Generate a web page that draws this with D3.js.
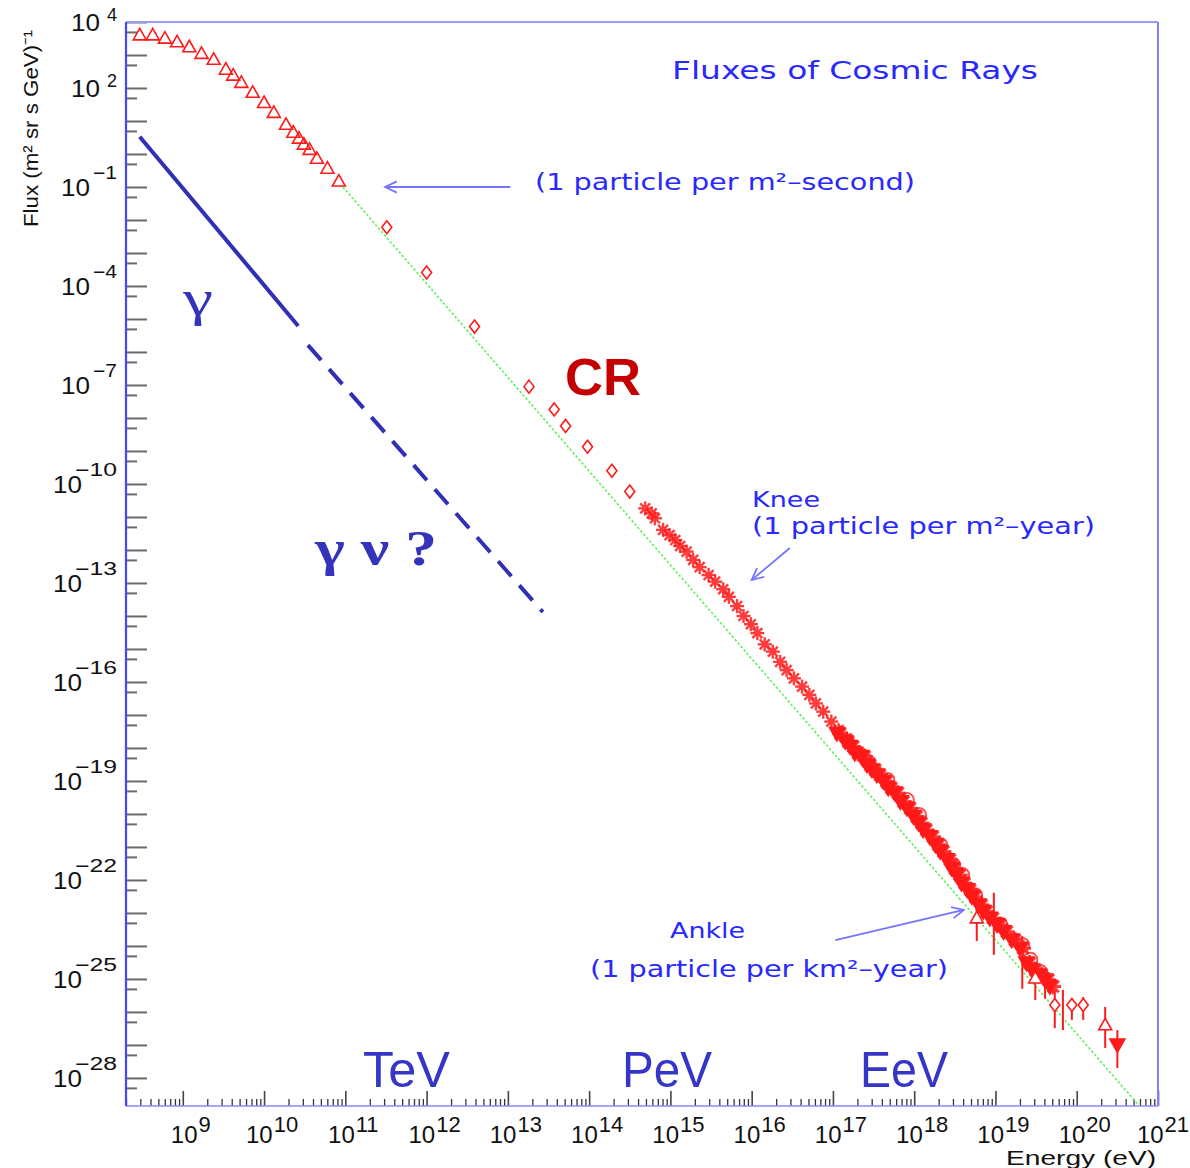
<!DOCTYPE html>
<html>
<head>
<meta charset="utf-8">
<script src="https://cdn.jsdelivr.net/npm/d3@7"></script>
<style>
    body { margin: 0; background: #fff; }
    svg { display: block; }
    text { font-family: "Liberation Sans", Arial, sans-serif; }
</style>
</head>
<body>
<div id="chart"></div>
<script>
// Values are log10 of energy (eV) and flux
const xTickExps = [9, 10, 11, 12, 13, 14, 15, 16, 17, 18, 19, 20, 21];
const yLabelExps = [4, 2, -1, -4, -7, -10, -13, -16, -19, -22, -25, -28];

// low energy (open triangles)
const triLogE = [8.47, 8.63, 8.78, 8.93, 9.08, 9.23, 9.38, 9.53, 9.62, 9.72, 9.86, 10.00, 10.12, 10.27, 10.36, 10.43, 10.49, 10.56, 10.65, 10.78, 10.92];
const triLogF = [3.61, 3.61, 3.51, 3.40, 3.25, 3.05, 2.87, 2.57, 2.39, 2.17, 1.87, 1.56, 1.26, 0.90, 0.66, 0.48, 0.30, 0.14, -0.13, -0.43, -0.82];

// direct measurements (open diamonds)
const diaLogE = [11.51, 12.00, 12.59, 13.26, 13.57, 13.71, 13.98, 14.28, 14.50];
const diaLogF = [-2.22, -3.59, -5.23, -7.05, -7.74, -8.24, -8.87, -9.60, -10.23];

// air shower data around the knee (stars)
const starLogE = [14.69, 14.77, 14.81, 14.91, 14.99, 15.06, 15.12, 15.20, 15.28, 15.36, 15.47, 15.55, 15.65, 15.72, 15.82,
    15.90, 15.99, 16.07, 16.16, 16.26, 16.35, 16.43, 16.52, 16.62, 16.71, 16.79, 16.88, 16.98, 17.07, 17.17];
const starLogF = [-10.74, -10.89, -11.04, -11.39, -11.55, -11.70, -11.88, -12.05, -12.30, -12.52, -12.76, -12.96, -13.19, -13.42, -13.70,
    -14.00, -14.25, -14.52, -14.86, -15.08, -15.39, -15.64, -15.89, -16.14, -16.39, -16.65, -16.90, -17.20, -17.46, -17.71];

// dense band above the knee (filled triangles)
const bandLogE = [17.05, 17.15, 17.21, 17.27, 17.35, 17.42, 17.48, 17.54, 17.62, 17.68, 17.76, 17.83, 17.91, 17.99, 18.05, 18.11, 18.19, 18.26, 18.32,
    18.40, 18.46, 18.52, 18.58, 18.65, 18.71, 18.79, 18.85, 18.93, 19.02, 19.10, 19.20, 19.30, 19.38, 19.45, 19.53, 19.61, 19.67];
const bandLogF = [-17.56, -17.81, -17.96, -18.16, -18.26, -18.52, -18.67, -18.82, -19.02, -19.22, -19.37, -19.63, -19.83, -20.08, -20.28, -20.49, -20.69, -20.94, -21.14,
    -21.39, -21.65, -21.85, -22.10, -22.30, -22.51, -22.76, -22.96, -23.16, -23.36, -23.57, -23.82, -24.07, -24.52, -24.73, -24.88, -25.03, -25.23];

// open circles on the band
const circLogE = [17.43, 17.67, 17.91, 18.06, 18.32, 18.48, 18.59, 18.75, 19.06, 19.33, 19.43, 19.55];
const circLogF = [-18.42, -18.97, -19.58, -20.03, -20.94, -21.55, -21.85, -22.46, -23.36, -23.97, -24.42, -24.79];

// highest energies, with error bars
const errLogE = [18.77, 18.98, 19.33, 19.49, 19.61, 19.73, 19.83, 19.94, 20.08, 20.35, 20.50];
const errLogF = [-23.15, -23.21, -24.07, -24.97, -25.03, -25.79, -25.79, -25.79, -25.79, -26.39, -27.00];
const errHiF = [-22.39, -22.39, -23.70, -24.61, -24.70, -25.33, -25.33, -25.58, -25.55, -25.85, -26.55];
const errLoF = [-23.85, -24.27, -25.30, -25.64, -25.60, -26.49, -26.55, -26.24, -26.24, -27.09, -27.70];
const errMarker = ['tri', 'none', 'none', 'tri', 'none', 'dia', 'none', 'dia', 'dia', 'tri', 'tridown'];

// power-law guide (green dotted)
const greenLogE = [10.97, 20.77];
const greenLogF = [-1.0, -28.85];

// gamma lines
const gammaSolidLogE = [8.47, 10.42];
const gammaSolidLogF = [0.52, -5.21];
const gammaDashLogE = [10.54, 13.43];
const gammaDashLogF = [-5.79, -13.88];

// annotation arrows [from, to]
const arrowSecond = [[13.03, -1.0], [11.49, -1.0]];
const arrowKnee = [[16.47, -11.94], [16.00, -12.91]];
const arrowAnkle = [[17.03, -23.82], [18.61, -22.91]];

const W = 1190, H = 1168;
const pLeft = 126, pRight = 1158, pTop = 22, pBottom = 1106;
const red = '#ff1a1a';
const blueText = '#2828ff';
const blueArrow = '#7474ff';
const blueBig = '#3333bb';

const x = d3.scaleLog().domain([2e8, 1e21]).range([pLeft, pRight]);
const y = d3.scaleLog().domain([Math.pow(10, -28.85), 1e4]).range([pBottom, pTop]);
const X = e => x(Math.pow(10, e));
const Y = f => y(Math.pow(10, f));

const svg = d3.select('#chart').append('svg')
    .attr('width', W)
    .attr('height', H);

svg.append('rect').attr('width', W).attr('height', H).attr('fill', '#fff');

// ---------- axes ----------
const xMajor = [], xMinor = [];
for (let d = 8; d <= 20; d++) {
    for (let m = 1; m <= 9; m++) {
        const v = m * Math.pow(10, d);
        if (v < 2e8 || v > 1e21) continue;
        (m === 1 ? xMajor : xMinor).push(v);
    }
}
xMajor.push(1e21);

const yMajor = [], yMinor = [];
for (let n = 4; n >= -28; n--) {
    yMajor.push(Math.pow(10, n));
    yMinor.push(5 * Math.pow(10, n - 1));
}

const tickStyle = g => {
    g.select('.domain').remove();
    g.selectAll('.tick text').remove();
};

svg.append('g')
    .attr('transform', `translate(0,${pBottom})`)
    .call(d3.axisTop(x).tickValues(xMinor).tickSize(7).tickFormat(''))
    .call(tickStyle)
    .selectAll('line').attr('stroke', '#333').attr('stroke-width', 1.3);

svg.append('g')
    .attr('transform', `translate(0,${pBottom})`)
    .call(d3.axisTop(x).tickValues(xMajor).tickSize(15).tickFormat(''))
    .call(tickStyle)
    .selectAll('line').attr('stroke', '#444').attr('stroke-width', 1.6);

svg.append('g')
    .attr('transform', `translate(${pLeft},0)`)
    .call(d3.axisRight(y).tickValues(yMajor).tickSize(21).tickFormat(''))
    .call(tickStyle)
    .selectAll('line').attr('stroke', '#6a6a6a').attr('stroke-width', 2);

svg.append('g')
    .attr('transform', `translate(${pLeft},0)`)
    .call(d3.axisRight(y).tickValues(yMinor).tickSize(11).tickFormat(''))
    .call(tickStyle)
    .selectAll('line').attr('stroke', '#6a6a6a').attr('stroke-width', 2);

// frame
const frame = svg.append('g').attr('fill', 'none');
frame.append('line').attr('x1', pLeft).attr('x2', pRight).attr('y1', pTop).attr('y2', pTop)
    .attr('stroke', '#9a9aff').attr('stroke-width', 2);
frame.append('line').attr('x1', pRight).attr('x2', pRight).attr('y1', pTop).attr('y2', pBottom)
    .attr('stroke', '#8080ff').attr('stroke-width', 2);
frame.append('line').attr('x1', pLeft).attr('x2', pRight).attr('y1', pBottom).attr('y2', pBottom)
    .attr('stroke', '#8a8aff').attr('stroke-width', 1.6);
frame.append('line').attr('x1', pLeft).attr('x2', pLeft).attr('y1', pTop).attr('y2', pBottom)
    .attr('stroke', '#4646ff').attr('stroke-width', 2.2);

// x tick labels
xTickExps.forEach(e => {
    const t = svg.append('text')
        .attr('x', Math.min(X(e) + 8, 1163))
        .attr('y', 1143)
        .attr('text-anchor', 'middle')
        .attr('fill', '#111');
    t.append('tspan').style('font-size', '24px').text('10');
    t.append('tspan').attr('dx', 1).attr('dy', -11).style('font-size', '22px').text(e);
});

// y tick labels
yLabelExps.forEach(e => {
    const yy = Y(e) + 9;
    const s = e < 0 ? '\u2212' + Math.abs(e) : String(e);
    const mainEnd = s.length === 1 ? 100 : s.length === 2 ? 90 : 82;
    svg.append('text')
        .attr('x', mainEnd)
        .attr('y', yy)
        .attr('text-anchor', 'end')
        .attr('fill', '#111')
        .attr('textLength', 29)
        .attr('lengthAdjust', 'spacingAndGlyphs')
        .style('font-size', '23px')
        .text('10');
    const sup = svg.append('text')
        .attr('x', 117)
        .attr('y', yy - (e < 0 ? 17 : 10))
        .attr('text-anchor', 'end')
        .attr('fill', '#111')
        .style('font-size', '18px')
        .text(s);
    if (s.length > 1) sup.attr('textLength', s.length === 2 ? 24 : 42).attr('lengthAdjust', 'spacingAndGlyphs');
});

// axis titles
svg.append('text')
    .attr('transform', 'translate(38,227) rotate(-90)')
    .attr('fill', '#111')
    .attr('textLength', 197)
    .attr('lengthAdjust', 'spacingAndGlyphs')
    .style('font-size', '21px')
    .text('Flux (m\u00B2 sr s GeV)\u207B\u00B9');

svg.append('text')
    .attr('x', 1006)
    .attr('y', 1165)
    .attr('fill', '#111')
    .attr('textLength', 150)
    .attr('lengthAdjust', 'spacingAndGlyphs')
    .style('font-size', '20px')
    .text('Energy (eV)');

// ---------- curves ----------
const line = d3.line().x(d => X(d[0])).y(d => Y(d[1]));
const zip = (a, b) => a.map((v, i) => [v, b[i]]);

svg.append('path')
    .attr('d', line(zip(greenLogE, greenLogF)))
    .attr('fill', 'none')
    .attr('stroke', '#5cf05c')
    .attr('stroke-width', 1.6)
    .attr('stroke-dasharray', '2.5,2');

svg.append('path')
    .attr('d', line(zip(gammaSolidLogE, gammaSolidLogF)))
    .attr('fill', 'none')
    .attr('stroke', '#3030b4')
    .attr('stroke-width', 4);

svg.append('path')
    .attr('d', line(zip(gammaDashLogE, gammaDashLogF)))
    .attr('fill', 'none')
    .attr('stroke', '#3030b4')
    .attr('stroke-width', 4)
    .attr('stroke-dasharray', '20,12');

// ---------- markers ----------
const marks = svg.append('g');

const triUp = 'M0,-6.5L6.5,5L-6.5,5Z';
const triDown = 'M0,7.5L7.5,-6L-7.5,-6Z';
const diamond = 'M0,-6.5L5,0L0,6.5L-5,0Z';

function drawPath(le, lf, path, filled) {
    marks.selectAll(null)
        .data(zip(le, lf))
        .enter()
        .append('path')
        .attr('transform', d => `translate(${X(d[0])},${Y(d[1])})`)
        .attr('d', path)
        .attr('fill', filled ? red : 'none')
        .attr('stroke', red)
        .attr('stroke-width', 1.6);
}

function drawStars(le, lf, r, w) {
    const g = marks.selectAll(null)
        .data(zip(le, lf))
        .enter()
        .append('g')
        .attr('transform', d => `translate(${X(d[0])},${Y(d[1])})`)
        .attr('stroke', red)
        .attr('stroke-width', w)
        .attr('opacity', 0.85);
    [0, 45, 90, 135].forEach(a => {
        g.append('line')
            .attr('x1', -r).attr('x2', r)
            .attr('transform', `rotate(${a})`);
    });
    g.append('circle').attr('r', 3).attr('fill', red).attr('stroke', 'none');
}

drawPath(triLogE, triLogF, triUp, false);
drawPath(diaLogE, diaLogF, diamond, false);
drawStars(starLogE, starLogF, 7, 2.4);
drawPath(bandLogE, bandLogF, triDown, true);
drawStars(bandLogE.map(v => v + 0.04), bandLogF, 8, 3);

marks.selectAll(null)
    .data(zip(circLogE, circLogF))
    .enter()
    .append('circle')
    .attr('cx', d => X(d[0]))
    .attr('cy', d => Y(d[1]))
    .attr('r', 7)
    .attr('fill', 'none')
    .attr('stroke', red)
    .attr('stroke-width', 2)
    .attr('opacity', 0.75);

// error bars
marks.selectAll(null)
    .data(errLogE.map((e, i) => ({ e, f: errLogF[i], hi: errHiF[i], lo: errLoF[i], m: errMarker[i] })))
    .enter()
    .append('line')
    .attr('x1', d => X(d.e)).attr('x2', d => X(d.e))
    .attr('y1', d => Y(d.hi)).attr('y2', d => Y(d.lo))
    .attr('stroke', red)
    .attr('stroke-width', 2);

errLogE.forEach((e, i) => {
    const m = errMarker[i];
    if (m === 'none') return;
    const path = m === 'tri' ? triUp : m === 'tridown' ? triDown : diamond;
    marks.append('path')
        .attr('transform', `translate(${X(e)},${Y(errLogF[i])})`)
        .attr('d', path)
        .attr('fill', m === 'tridown' ? red : '#fff')
        .attr('stroke', red)
        .attr('stroke-width', 1.6);
});

// ---------- annotations ----------
function arrow(a) {
    const x1 = X(a[0][0]), y1 = Y(a[0][1]), x2 = X(a[1][0]), y2 = Y(a[1][1]);
    const ang = Math.atan2(y2 - y1, x2 - x1);
    const h = 13, spread = 0.45;
    svg.append('line')
        .attr('x1', x1).attr('y1', y1).attr('x2', x2).attr('y2', y2)
        .attr('stroke', blueArrow).attr('stroke-width', 1.8);
    svg.append('path')
        .attr('d', `M${x2 - h * Math.cos(ang - spread)},${y2 - h * Math.sin(ang - spread)}L${x2},${y2}L${x2 - h * Math.cos(ang + spread)},${y2 - h * Math.sin(ang + spread)}`)
        .attr('fill', 'none')
        .attr('stroke', blueArrow)
        .attr('stroke-width', 1.8);
}
arrow(arrowSecond);
arrow(arrowKnee);
arrow(arrowAnkle);

function label(txt, px, py, len, size, color, family, weight) {
    const t = svg.append('text')
        .attr('x', px)
        .attr('y', py)
        .attr('fill', color)
        .style('font-size', size + 'px')
        .style('font-family', family || '"DejaVu Sans", sans-serif')
        .style('font-weight', weight || 'normal')
        .text(txt);
    if (len) t.attr('textLength', len).attr('lengthAdjust', 'spacingAndGlyphs');
    return t;
}

label('Fluxes of Cosmic Rays', 672, 79, 366, 24, blueText);
label('(1 particle per m\u00B2\u2013second)', 535, 190, 380, 23, blueText);
label('Knee', 752, 507, 68, 21, blueText);
label('(1 particle per m\u00B2\u2013year)', 752, 534, 343, 23, blueText);
label('Ankle', 670, 938, 75, 21, blueText);
label('(1 particle per km\u00B2\u2013year)', 590, 977, 358, 23, blueText);

label('CR', 565, 395, 76, 52, '#c40000', '"Liberation Sans", Arial, sans-serif', 'bold');
label('\u03B3', 183, 315, 30, 50, blueBig, '"Liberation Serif", "Times New Roman", serif', 'normal');
label('\u03B3 \u03BD ?', 315, 565, 122, 50, blueBig, '"Liberation Serif", "Times New Roman", serif', 'bold');

label('TeV', 363, 1087, 87, 50, '#3535c8', '"Liberation Sans", Arial, sans-serif');
label('PeV', 622, 1087, 90, 50, '#3535c8', '"Liberation Sans", Arial, sans-serif');
label('EeV', 860, 1087, 88, 50, '#3535c8', '"Liberation Sans", Arial, sans-serif');
</script>
</body>
</html>
